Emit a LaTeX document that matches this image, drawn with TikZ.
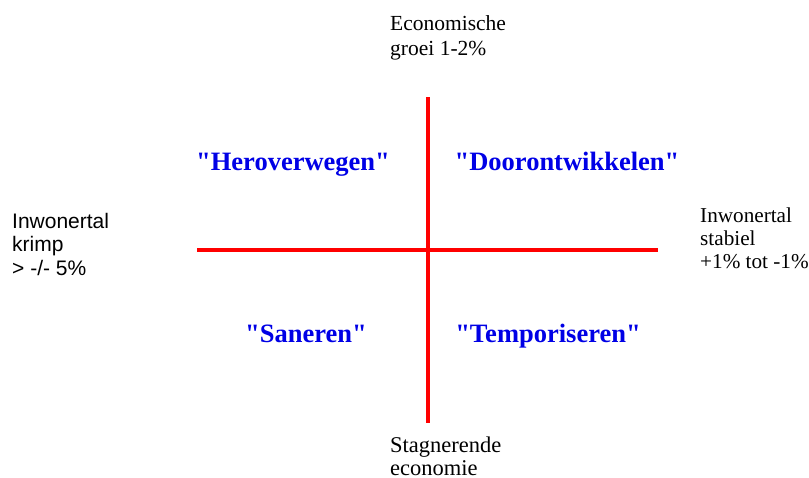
\documentclass[tikz,border=0pt]{standalone}
\usepackage{fontspec}
\setmainfont{Liberation Serif}[Ligatures=TeXOff]
\newfontfamily\arialfont{Liberation Sans}
\definecolor{axisred}{RGB}{255,0,0}
\definecolor{quadblue}{RGB}{0,0,230}
\begin{document}
\begin{tikzpicture}[x=1pt,y=-1pt,
  axisline/.style={draw=axisred,line width=3.5pt},
  seriflabel/.style={anchor=base west,inner sep=0pt,align=left,font=\fontsize{22.5}{23}\selectfont},
  sanslabel/.style={anchor=base west,inner sep=0pt,align=left,font=\arialfont\fontsize{21}{23.5}\selectfont},
  quadlabel/.style={anchor=base,inner sep=0pt,text=quadblue,font=\bfseries\fontsize{26.5}{28}\selectfont}]
\useasboundingbox[fill=white] (0,0) rectangle (809,477);
\coordinate (vtop) at (428,97);
\coordinate (vbot) at (428,423);
\coordinate (hleft) at (197,250);
\coordinate (hright) at (658,250);
\draw[axisline] (vtop) -- (vbot);
\draw[axisline] (hleft) -- (hright);
\node[quadlabel] (hero) at (293,170) {"Heroverwegen"};
\node[quadlabel] (door) at (567,170) {"Doorontwikkelen"};
\node[quadlabel] (sane) at (306,342) {"Saneren"};
\node[quadlabel] (temp) at (548,342) {"Temporiseren"};
\node[seriflabel,font=\fontsize{21.5}{25}\selectfont] (econ) at (390,55) {Economische\\groei 1-2\%};
\node[seriflabel] (stag) at (390,475) {Stagnerende\\economie};
\node[sanslabel] (krimp) at (12,275) {Inwonertal\\krimp\\> -/- 5\%};
\node[seriflabel,font=\fontsize{21.2}{23}\selectfont] (stab) at (700,268) {Inwonertal\\stabiel\\+1\% tot -1\%};
\end{tikzpicture}
\end{document}
